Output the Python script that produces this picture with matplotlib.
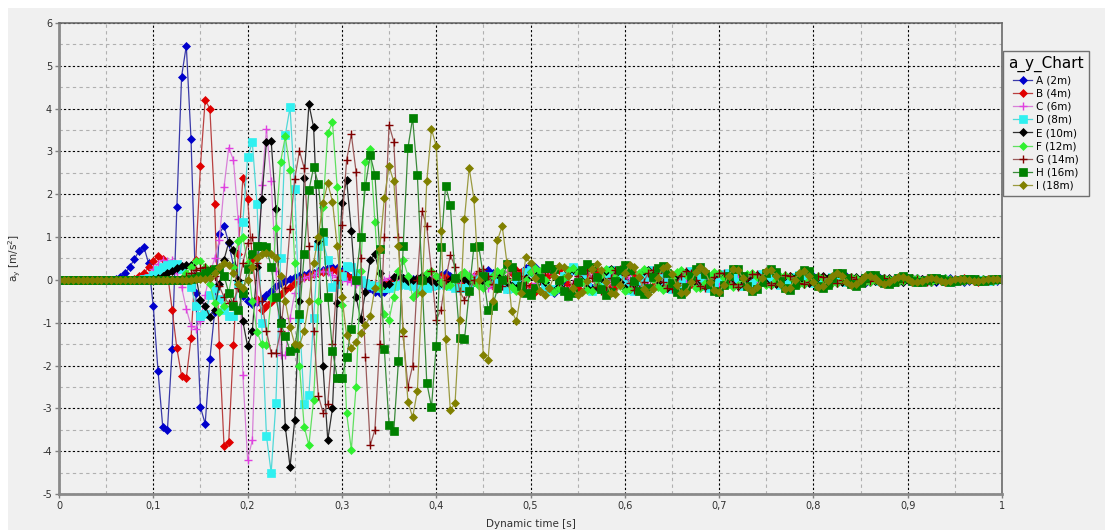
import numpy as np
import matplotlib
matplotlib.use("Agg")
import matplotlib.pyplot as plt
from matplotlib.ticker import MultipleLocator, FuncFormatter
from matplotlib.patches import Rectangle

# acceleration a_y per measuring point, sampled every 5 ms (rows of 10 samples = 0.05 s)
dt = 0.005

a_2m = [
    0, 0, 0, 0, 0, 0, 0, 0, 0, 0,
    0, 0, 0.02, 0.07, 0.15, 0.30, 0.49, 0.68, 0.77, 0.39,
    -0.62, -2.12, -3.43, -3.50, -1.61, 1.71, 4.75, 5.47, 3.29, -0.31,
    -2.97, -3.36, -1.85, -0.76, 1.08, 1.26, 0.86, 0.33, -0.09, -0.37,
    -0.49, -0.56, -0.52, -0.45, -0.35, -0.25, -0.15, -0.08, -0.02, 0.03,
    0.07, 0.10, 0.12, 0.15, 0.17, 0.20, 0.22, 0.27, 0.30, 0.27,
    0.20, 0.12, 0.05, 0.00, -0.05, -0.12, -0.20, -0.28, -0.31, -0.28,
    -0.18, -0.08, 0.00, 0.05, 0.06, 0.03, -0.02, -0.05, -0.02, 0.03,
    0.08, 0.12, 0.15, 0.10, 0.02, -0.08, -0.15, -0.12, -0.03, 0.08,
    0.18, 0.22, 0.15, 0.02, -0.12, -0.22, -0.18, -0.05, 0.12, 0.28,
    0.35, 0.30, 0.12, -0.10, -0.25, -0.30, -0.22, -0.05, 0.12, 0.22,
    0.20, 0.08, -0.08, -0.20, -0.22, -0.12, 0.02, 0.15, 0.22, 0.18,
    0.05, -0.10, -0.20, -0.18, -0.06, 0.08, 0.18, 0.20, 0.10, -0.04,
    -0.15, -0.20, -0.12, 0.00, 0.12, 0.18, 0.14, 0.02, -0.10, -0.16,
    -0.14, -0.04, 0.08, 0.15, 0.14, 0.05, -0.06, -0.13, -0.12, -0.04,
    0.06, 0.12, 0.11, 0.04, -0.05, -0.10, -0.09, -0.02, 0.06, 0.10,
    0.08, 0.02, -0.05, -0.08, -0.06, 0.00, 0.06, 0.08, 0.05, -0.01,
    -0.06, -0.07, -0.03, 0.03, 0.06, 0.05, 0.01, -0.04, -0.06, -0.04,
    0.01, 0.05, 0.05, 0.02, -0.02, -0.05, -0.04, 0.00, 0.04, 0.05,
    0.02, -0.02, -0.04, -0.03, 0.01, 0.03, 0.03, 0.00, -0.02, -0.03,
    -0.01,
]

b_4m = [
    0, 0, 0, 0, 0, 0, 0, 0, 0, 0,
    0, 0, 0, 0, 0, 0, 0.03, 0.08, 0.16, 0.29,
    0.45, 0.57, 0.49, 0.16, -0.70, -1.60, -2.24, -2.30, -1.36, 0.47,
    2.66, 4.20, 4.00, 1.78, -1.52, -3.88, -3.78, -1.52, 0.60, 2.39,
    1.88, 0.49, -0.45, -0.70, -0.62, -0.52, -0.42, -0.32, -0.24, -0.16,
    -0.08, 0.00, 0.06, 0.10, 0.13, 0.16, 0.18, 0.20, 0.22, 0.20,
    0.15, 0.10, 0.05, 0.00, -0.05, -0.08, -0.10, -0.12, -0.10, -0.06,
    -0.02, 0.02, 0.05, 0.03, -0.02, -0.08, -0.12, -0.10, -0.04, 0.03,
    0.08, 0.10, 0.06, -0.02, -0.10, -0.14, -0.10, 0.00, 0.10, 0.15,
    0.10, -0.02, -0.14, -0.20, -0.14, 0.00, 0.15, 0.24, 0.18, 0.02,
    -0.15, -0.28, -0.25, -0.08, 0.12, 0.26, 0.24, 0.08, -0.10, -0.22,
    -0.20, -0.06, 0.10, 0.22, 0.20, 0.06, -0.10, -0.20, -0.16, -0.02,
    0.12, 0.20, 0.16, 0.02, -0.12, -0.20, -0.14, 0.00, 0.14, 0.20,
    0.12, -0.02, -0.14, -0.18, -0.10, 0.04, 0.15, 0.16, 0.06, -0.07,
    -0.15, -0.12, 0.00, 0.11, 0.15, 0.08, -0.04, -0.12, -0.12, -0.03,
    0.08, 0.12, 0.08, -0.02, -0.10, -0.10, -0.03, 0.06, 0.10, 0.07,
    -0.01, -0.08, -0.09, -0.03, 0.05, 0.08, 0.05, -0.02, -0.07, -0.06,
    0.00, 0.05, 0.07, 0.03, -0.03, -0.06, -0.04, 0.01, 0.05, 0.05,
    0.01, -0.04, -0.05, -0.02, 0.02, 0.05, 0.03, -0.01, -0.04, -0.04,
    0.00, 0.03, 0.04, 0.01, -0.02, -0.04, -0.02, 0.01, 0.03, 0.02,
    -0.01,
]

c_6m = [
    0, 0, 0, 0, 0, 0, 0, 0, 0, 0,
    0, 0, 0, 0, 0, 0, 0, 0.02, 0.05, 0.12,
    0.25, 0.38, 0.47, 0.44, 0.47, 0.15, -0.17, -0.68, -1.07, -1.14,
    -0.95, -0.35, 0.15, 0.50, 0.93, 2.17, 3.09, 2.80, 1.42, -2.22,
    -4.20, -3.74, -0.50, 2.21, 3.52, 2.31, 0.20, -1.76, -1.76, -0.90,
    -0.30, 0.00, 0.05, 0.08, 0.12, 0.18, 0.20, 0.18, 0.12, 0.06,
    0.02, -0.02, -0.06, -0.10, -0.12, -0.14, -0.12, -0.08, -0.04, 0.00,
    0.04, 0.06, 0.04, 0.00, -0.05, -0.08, -0.06, -0.01, 0.05, 0.08,
    0.06, 0.00, -0.07, -0.12, -0.10, -0.02, 0.08, 0.14, 0.12, 0.02,
    -0.10, -0.18, -0.15, -0.04, 0.10, 0.20, 0.18, 0.05, -0.12, -0.24,
    -0.22, -0.08, 0.12, 0.25, 0.24, 0.08, -0.12, -0.26, -0.24, -0.08,
    0.10, 0.22, 0.22, 0.08, -0.10, -0.22, -0.20, -0.06, 0.10, 0.20,
    0.18, 0.04, -0.12, -0.20, -0.15, -0.02, 0.12, 0.19, 0.14, 0.00,
    -0.12, -0.18, -0.12, 0.02, 0.14, 0.17, 0.09, -0.04, -0.14, -0.15,
    -0.06, 0.06, 0.14, 0.13, 0.03, -0.08, -0.13, -0.10, 0.00, 0.09,
    0.12, 0.06, -0.04, -0.10, -0.09, -0.02, 0.06, 0.09, 0.06, -0.02,
    -0.07, -0.08, -0.03, 0.04, 0.07, 0.05, -0.01, -0.06, -0.06, -0.01,
    0.04, 0.06, 0.03, -0.02, -0.05, -0.04, 0.00, 0.04, 0.05, 0.02,
    -0.02, -0.04, -0.03, 0.01, 0.04, 0.03, 0.00, -0.03, -0.04, -0.01,
    0.02, 0.03, 0.02, -0.01, -0.03, -0.02, 0.00, 0.02, 0.02, 0.00,
    -0.01,
]

d_8m = [
    0, 0, 0, 0, 0, 0, 0, 0, 0, 0,
    0, 0, 0, 0, 0, 0, 0, 0, 0.02, 0.05,
    0.12, 0.22, 0.30, 0.35, 0.38, 0.36, 0.25, 0.05, -0.16, -0.60,
    -0.85, -0.80, -0.35, -0.20, -0.45, -0.70, -0.85, -0.84, -0.10, 1.36,
    2.87, 3.21, 1.77, -1.00, -3.65, -4.50, -2.87, 0.50, 3.39, 4.03,
    2.13, -0.90, -2.90, -2.69, -0.90, 0.79, 0.90, 0.47, -0.17, -0.10,
    0.10, 0.33, 0.30, 0.15, 0.00, -0.08, -0.12, -0.15, -0.18, -0.20,
    -0.18, -0.15, -0.12, -0.10, -0.12, -0.15, -0.18, -0.20, -0.18, -0.15,
    -0.12, -0.10, -0.12, -0.15, -0.18, -0.20, -0.18, -0.12, -0.05, 0.02,
    0.08, 0.10, 0.05, -0.05, -0.15, -0.22, -0.20, -0.10, 0.05, 0.18,
    0.22, 0.15, 0.00, -0.15, -0.25, -0.22, -0.08, 0.10, 0.24, 0.30,
    0.20, 0.02, -0.16, -0.26, -0.22, -0.06, 0.12, 0.24, 0.22, 0.08,
    -0.10, -0.24, -0.26, -0.12, 0.06, 0.20, 0.24, 0.14, -0.04, -0.18,
    -0.22, -0.14, 0.02, 0.16, 0.20, 0.12, -0.02, -0.15, -0.18, -0.10,
    0.04, 0.14, 0.16, 0.08, -0.05, -0.14, -0.14, -0.05, 0.06, 0.13,
    0.12, 0.04, -0.06, -0.12, -0.10, -0.02, 0.07, 0.11, 0.08, 0.00,
    -0.07, -0.09, -0.05, 0.02, 0.07, 0.07, 0.02, -0.04, -0.07, -0.05,
    0.00, 0.05, 0.06, 0.03, -0.02, -0.05, -0.04, 0.00, 0.04, 0.05,
    0.02, -0.02, -0.04, -0.03, 0.00, 0.03, 0.04, 0.01, -0.02, -0.04,
    -0.03, -0.01, 0.02, 0.03, 0.02, -0.01, -0.03, -0.03, -0.01, 0.01,
    0.02,
]

e_10m = [
    0, 0, 0, 0, 0, 0, 0, 0, 0, 0,
    0, 0, 0, 0, 0, 0, 0, 0, 0, 0,
    0.02, 0.05, 0.10, 0.15, 0.20, 0.28, 0.33, 0.35, 0.35, 0.10,
    -0.47, -0.62, -0.86, -0.70, -0.10, 0.47, 0.88, 0.70, 0.00, -0.97,
    -1.55, -1.20, 0.30, 1.90, 3.23, 3.25, 1.65, -0.93, -3.43, -4.37,
    -3.27, -0.50, 2.37, 4.10, 3.57, 0.90, -2.02, -3.74, -3.00, -0.53,
    1.79, 2.34, 1.14, -0.39, -0.92, -0.29, 0.47, 0.60, 0.15, -0.13,
    -0.10, 0.06, 0.12, 0.05, -0.02, 0.00, 0.05, 0.08, 0.04, -0.02,
    -0.06, -0.08, -0.05, 0.00, 0.04, 0.06, 0.03, -0.02, -0.06, -0.08,
    -0.05, 0.02, 0.10, 0.14, 0.08, -0.04, -0.15, -0.20, -0.12, 0.04,
    0.18, 0.22, 0.12, -0.06, -0.20, -0.26, -0.15, 0.04, 0.20, 0.26,
    0.16, -0.02, -0.18, -0.24, -0.14, 0.04, 0.20, 0.25, 0.14, -0.04,
    -0.18, -0.22, -0.12, 0.06, 0.20, 0.24, 0.12, -0.06, -0.18, -0.20,
    -0.08, 0.08, 0.18, 0.18, 0.06, -0.08, -0.17, -0.14, -0.02, 0.11,
    0.16, 0.10, -0.02, -0.13, -0.15, -0.07, 0.05, 0.13, 0.12, 0.03,
    -0.07, -0.12, -0.09, 0.00, 0.08, 0.10, 0.05, -0.03, -0.09, -0.08,
    -0.01, 0.06, 0.08, 0.04, -0.03, -0.07, -0.05, 0.01, 0.06, 0.06,
    0.01, -0.04, -0.06, -0.03, 0.02, 0.05, 0.04, -0.01, -0.04, -0.04,
    0.00, 0.04, 0.04, 0.01, -0.03, -0.04, -0.02, 0.02, 0.03, 0.02,
    -0.01, -0.03, -0.03, 0.00, 0.02, 0.03, 0.01, -0.02, -0.03, -0.01,
    0.01,
]

f_12m = [
    0, 0, 0, 0, 0, 0, 0, 0, 0, 0,
    0, 0, 0, 0, 0, 0, 0, 0, 0, 0,
    0, 0, 0, 0, 0, 0, 0.05, 0.15, 0.30, 0.45,
    0.45, 0.30, -0.10, -0.55, -0.75, -0.60, -0.30, 0.30, 0.90, 1.00,
    0.40, -0.50, -1.21, -1.50, -1.52, -0.43, 1.22, 2.76, 3.35, 2.57,
    0.40, -2.00, -3.43, -3.86, -2.80, -0.50, 1.71, 3.43, 3.68, 2.16,
    -0.58, -3.11, -3.97, -2.49, 0.20, 2.76, 3.05, 1.36, -0.20, -0.80,
    -0.93, -0.40, 0.20, 0.47, 0.10, -0.39, -0.30, -0.05, 0.15, 0.20,
    0.10, -0.05, -0.15, -0.12, 0.00, 0.12, 0.18, 0.10, -0.05, -0.15,
    -0.18, -0.08, 0.08, 0.20, 0.18, 0.02, -0.16, -0.25, -0.18, 0.00,
    0.18, 0.28, 0.20, 0.00, -0.20, -0.28, -0.18, 0.04, 0.22, 0.28,
    0.16, -0.06, -0.24, -0.26, -0.10, 0.12, 0.26, 0.24, 0.06, -0.14,
    -0.26, -0.22, -0.04, 0.16, 0.26, 0.20, 0.02, -0.17, -0.24, -0.14,
    0.04, 0.18, 0.22, 0.12, -0.05, -0.18, -0.20, -0.08, 0.08, 0.18,
    0.16, 0.04, -0.10, -0.16, -0.11, 0.02, 0.13, 0.15, 0.06, -0.06,
    -0.13, -0.11, -0.01, 0.08, 0.12, 0.07, -0.03, -0.10, -0.09, -0.01,
    0.06, 0.09, 0.05, -0.02, -0.07, -0.07, -0.01, 0.05, 0.07, 0.04,
    -0.02, -0.06, -0.05, 0.00, 0.04, 0.05, 0.02, -0.03, -0.05, -0.03,
    0.01, 0.04, 0.04, 0.00, -0.03, -0.04, -0.01, 0.02, 0.04, 0.02,
    -0.01, -0.03, -0.03, 0.00, 0.02, 0.03, 0.01, -0.02, -0.02, -0.01,
    0.01,
]

g_14m = [
    0, 0, 0, 0, 0, 0, 0, 0, 0, 0,
    0, 0, 0, 0, 0, 0, 0, 0, 0, 0,
    0, 0, 0, 0, 0, 0, 0.03, 0.08, 0.15, 0.22,
    0.28, 0.30, 0.25, 0.10, -0.15, -0.40, -0.55, -0.50, -0.20, 0.40,
    0.86, 1.00, 0.40, -0.50, -1.20, -1.70, -1.71, -1.20, -0.20, 1.20,
    2.36, 3.01, 2.61, 0.80, -1.20, -2.70, -3.10, -2.90, -1.50, 0.00,
    1.29, 2.80, 3.40, 2.53, 0.50, -1.80, -3.86, -3.50, -1.50, 1.00,
    3.62, 3.23, 1.00, -1.30, -2.49, -2.00, 0.00, 1.60, 1.25, 0.20,
    -0.93, -0.70, 0.00, 0.58, 0.31, -0.27, -0.47, -0.30, 0.00, 0.20,
    0.25, 0.10, -0.10, -0.22, -0.15, 0.05, 0.20, 0.22, 0.08, -0.12,
    -0.25, -0.20, -0.02, 0.18, 0.28, 0.18, -0.04, -0.22, -0.26, -0.10,
    0.10, 0.24, 0.22, 0.04, -0.16, -0.26, -0.16, 0.04, 0.22, 0.26,
    0.12, -0.08, -0.24, -0.22, -0.04, 0.16, 0.24, 0.16, -0.04, -0.20,
    -0.22, -0.08, 0.10, 0.20, 0.16, 0.00, -0.15, -0.20, -0.10, 0.06,
    0.17, 0.15, 0.03, -0.10, -0.16, -0.10, 0.03, 0.13, 0.14, 0.04,
    -0.08, -0.13, -0.08, 0.03, 0.11, 0.10, 0.01, -0.08, -0.10, -0.04,
    0.05, 0.09, 0.06, -0.02, -0.08, -0.07, 0.00, 0.06, 0.07, 0.02,
    -0.04, -0.06, -0.03, 0.02, 0.05, 0.04, -0.01, -0.05, -0.04, 0.00,
    0.04, 0.04, 0.01, -0.03, -0.04, -0.02, 0.02, 0.03, 0.02, -0.01,
    -0.03, -0.03, 0.00, 0.02, 0.03, 0.01, -0.02, -0.02, -0.01, 0.01,
    0.02,
]

h_16m = [
    0, 0, 0, 0, 0, 0, 0, 0, 0, 0,
    0, 0, 0, 0, 0, 0, 0, 0, 0, 0,
    0, 0, 0, 0, 0, 0, 0, 0, 0.02, 0.05,
    0.08, 0.15, 0.20, 0.25, 0.25, 0.10, -0.30, -0.60, -0.70, -0.30,
    0.25, 0.60, 0.80, 0.80, 0.76, 0.30, -0.40, -1.00, -1.32, -1.65,
    -1.60, -0.80, 0.60, 2.09, 2.63, 2.25, 1.11, -0.39, -1.65, -2.28,
    -2.28, -1.80, -1.15, 0.00, 1.01, 2.20, 2.92, 2.46, 0.72, -1.62,
    -3.39, -3.54, -1.89, 0.79, 3.08, 3.78, 2.45, 0.00, -2.40, -2.97,
    -1.54, 0.76, 2.20, 1.75, 0.05, -1.36, -1.39, -0.27, 0.78, 0.79,
    0.10, -0.70, -0.60, -0.20, 0.00, 0.37, 0.30, 0.10, -0.15, -0.30,
    -0.35, -0.20, 0.05, 0.28, 0.35, 0.25, 0.00, -0.25, -0.38, -0.30,
    -0.05, 0.22, 0.36, 0.30, 0.06, -0.22, -0.36, -0.28, -0.02, 0.24,
    0.34, 0.24, -0.02, -0.26, -0.34, -0.20, 0.06, 0.28, 0.32, 0.16,
    -0.08, -0.28, -0.32, -0.16, 0.08, 0.26, 0.30, 0.14, -0.10, -0.26,
    -0.28, -0.12, 0.10, 0.26, 0.26, 0.08, -0.14, -0.26, -0.22, -0.04,
    0.16, 0.26, 0.18, -0.02, -0.20, -0.24, -0.12, 0.08, 0.22, 0.20,
    0.04, -0.14, -0.20, -0.12, 0.04, 0.16, 0.16, 0.04, -0.10, -0.14,
    -0.08, 0.04, 0.12, 0.11, 0.02, -0.08, -0.10, -0.04, 0.05, 0.08,
    0.05, -0.02, -0.06, -0.05, 0.00, 0.04, 0.05, 0.02, -0.02, -0.04,
    -0.03, 0.00, 0.03, 0.03, 0.01, -0.02, -0.03, -0.01, 0.01, 0.02,
    0.01,
]

i_18m = [
    0, 0, 0, 0, 0, 0, 0, 0, 0, 0,
    0, 0, 0, 0, 0, 0, 0, 0, 0, 0,
    0, 0, 0, 0, 0, 0, 0, 0, 0, 0.02,
    0.02, 0.03, 0.05, 0.15, 0.30, 0.40, 0.35, 0.15, -0.10, -0.20,
    0.00, 0.30, 0.50, 0.60, 0.62, 0.61, 0.50, 0.10, -0.50, -1.10,
    -1.50, -1.52, -1.20, -0.50, 0.40, 1.01, 1.80, 2.26, 1.83, 0.80,
    -0.39, -1.29, -1.58, -1.46, -1.23, -1.05, -0.84, -0.20, 0.72, 1.91,
    2.65, 2.30, 0.80, -1.20, -2.84, -3.21, -2.60, -0.30, 2.30, 3.52,
    3.13, 1.14, -1.39, -3.04, -2.88, -0.93, 1.43, 2.62, 1.89, 0.00,
    -1.76, -1.87, -0.50, 0.93, 1.26, 0.40, -0.72, -0.96, -0.30, 0.53,
    0.40, 0.05, -0.25, -0.35, -0.20, 0.10, 0.32, 0.30, 0.08, -0.20,
    -0.35, -0.28, -0.02, 0.26, 0.36, 0.22, -0.06, -0.30, -0.34, -0.12,
    0.16, 0.34, 0.30, 0.06, -0.22, -0.34, -0.22, 0.04, 0.28, 0.32,
    0.14, -0.12, -0.30, -0.28, -0.06, 0.18, 0.30, 0.20, -0.04, -0.24,
    -0.28, -0.12, 0.10, 0.26, 0.24, 0.04, -0.16, -0.26, -0.16, 0.04,
    0.20, 0.24, 0.10, -0.10, -0.22, -0.18, 0.00, 0.16, 0.20, 0.10,
    -0.06, -0.16, -0.14, -0.02, 0.10, 0.15, 0.08, -0.04, -0.12, -0.10,
    0.00, 0.09, 0.10, 0.04, -0.05, -0.09, -0.06, 0.02, 0.07, 0.07,
    0.01, -0.05, -0.06, -0.02, 0.03, 0.05, 0.03, -0.02, -0.04, -0.03,
    0.01, 0.03, 0.03, 0.00, -0.02, -0.03, -0.01, 0.01, 0.02, 0.01,
    -0.01,
]

labels = ["A (2m)", "B (4m)", "C (6m)", "D (8m)", "E (10m)",
          "F (12m)", "G (14m)", "H (16m)", "I (18m)"]
series = [a_2m, b_4m, c_6m, d_8m, e_10m, f_12m, g_14m, h_16m, i_18m]

# (line colour, marker colour, marker, marker size)
styles = [
    ("#3a3aa8", "#0000cc", "D", 3.6),
    ("#b84040", "#e00000", "D", 3.6),
    ("#d880d8", "#e040e0", "+", 6.0),
    ("#50d8d8", "#30f0f0", "s", 5.2),
    ("#303030", "#000000", "D", 3.6),
    ("#60e060", "#30f030", "D", 3.6),
    ("#9a5a5a", "#800000", "+", 6.0),
    ("#3a8a3a", "#008000", "s", 5.4),
    ("#9a9a40", "#808000", "D", 3.6),
]

bg = "#f0f0f0"
fig = plt.figure(figsize=(11.05, 5.30), dpi=100, facecolor="white")
fig.patches.append(Rectangle((8 / 1105, 0), 1, 1 - 8 / 530,
                             transform=fig.transFigure, facecolor=bg,
                             edgecolor="none", zorder=-10))
ax = fig.add_axes([59 / 1105, 1 - 494 / 530, 943 / 1105, 471 / 530])
ax.set_facecolor(bg)

for vals, lab, (lc, mc, mk, ms) in zip(series, labels, styles):
    t = np.arange(len(vals)) * dt
    ax.plot(t, vals, color=lc, lw=0.9, marker=mk, markersize=ms,
            markerfacecolor=mc, markeredgecolor=mc,
            markeredgewidth=1.0 if mk == "+" else 0.5, label=lab)

ax.set_xlim(0, 1)
ax.set_ylim(-5, 6)
ax.xaxis.set_major_locator(MultipleLocator(0.1))
ax.xaxis.set_minor_locator(MultipleLocator(0.05))
ax.yaxis.set_major_locator(MultipleLocator(1))
ax.yaxis.set_minor_locator(MultipleLocator(0.5))
ax.xaxis.set_major_formatter(FuncFormatter(lambda v, p: f"{v:g}".replace(".", ",")))
ax.yaxis.set_major_formatter(FuncFormatter(lambda v, p: f"{v:g}"))

ax.grid(which="major", color="#000000", linestyle=(0, (2, 2)), linewidth=0.8)
ax.grid(which="minor", color="#b0b0b0", linestyle=(0, (3, 3)), linewidth=0.8)
ax.set_axisbelow(True)

ax.tick_params(which="major", length=3, width=1, color="#808080",
               labelsize=7, labelcolor="#303030", pad=2)
ax.tick_params(which="minor", length=0)
for side in ("left", "bottom"):
    ax.spines[side].set_color("#8a8a8a")
    ax.spines[side].set_linewidth(2)
for side in ("top", "right"):
    ax.spines[side].set_color("#6a6a6a")
    ax.spines[side].set_linewidth(1.2)

ax.set_xlabel("Dynamic time [s]", fontsize=7.5, color="#303030", labelpad=6)
ax.set_ylabel(r"a$_\mathregular{y}$ [m/s$^\mathregular{2}$]", fontsize=7.5,
              color="#303030", labelpad=14)

leg = fig.legend(loc="upper left", bbox_to_anchor=(1003 / 1105, 1 - 51 / 530),
                 title="a_y_Chart", fontsize=7.5, title_fontsize=11,
                 frameon=True, fancybox=False, handlelength=1.8,
                 handletextpad=0.4, labelspacing=0.3, borderpad=0.5,
                 borderaxespad=0)
leg.get_frame().set_facecolor(bg)
leg.get_frame().set_edgecolor("#707070")
leg.get_frame().set_linewidth(1.0)
leg.get_frame().set_alpha(1)

fig.savefig("out.png", dpi=100, facecolor=fig.get_facecolor())
